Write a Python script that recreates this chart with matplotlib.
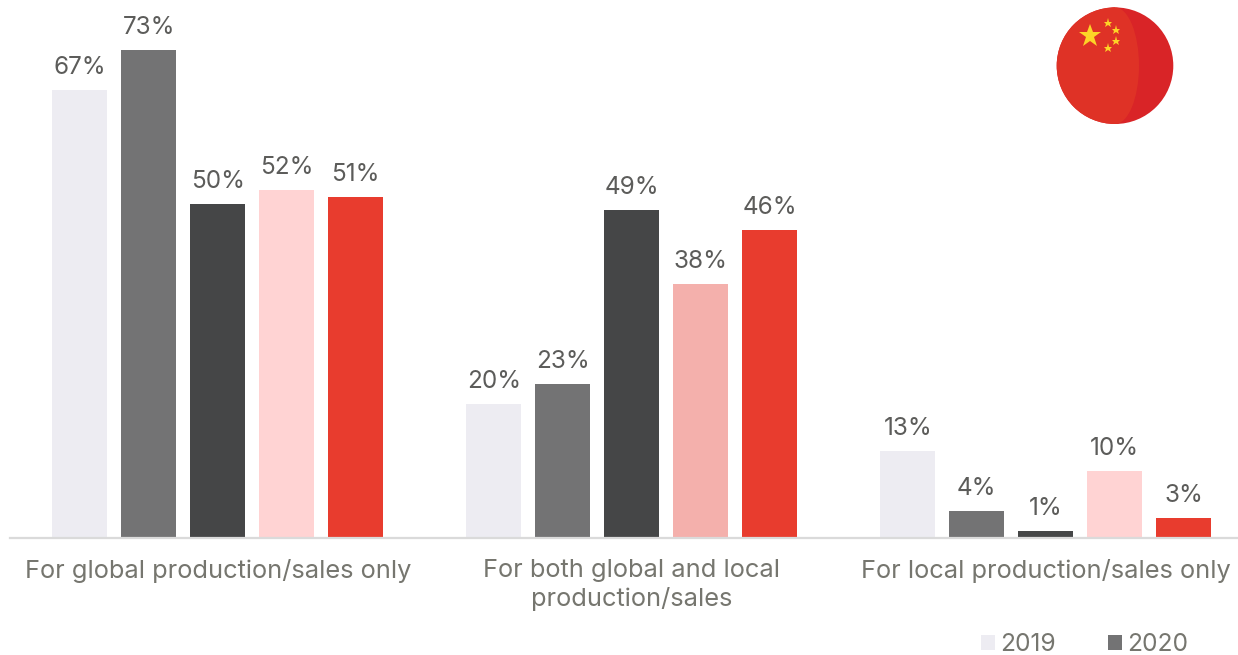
import matplotlib
matplotlib.use("Agg")
import matplotlib.pyplot as plt
from matplotlib.patches import Circle, Ellipse, Wedge

plt.rcParams['font.family'] = ['Inter', 'DejaVu Sans']

categories = ["For global production/sales only",
              "For both global and local\nproduction/sales",
              "For local production/sales only"]
values_a = [67, 20, 13]
values_b = [73, 23, 4]
values_c = [50, 49, 1]
values_d = [52, 38, 10]
values_e = [51, 46, 3]
series = [values_a, values_b, values_c, values_d, values_e]
series_labels = ["2019", "2020", None, None, None]
series_colors = [
    ["#EDECF2"] * 3,
    ["#737374"] * 3,
    ["#454647"] * 3,
    ["#FFD3D3", "#F4B0AC", "#FFD3D3"],
    ["#E83C2E"] * 3,
]

text_color = "#76766F"
value_color = "#5C5C5A"

W, H = 1238, 655
fig = plt.figure(figsize=(W / 100, H / 100), dpi=100)
ax = fig.add_axes([0, 0, 1, 1])

# one group step is 414 px, one percent is about 6.687 px
group_step = 414
first_center = 217.8
bar_step = 69 / group_step
bar_width = 55 / group_step
ax.set_xlim(-first_center / group_step, (W - first_center) / group_step)
ax.set_ylim(-(H - 538) / 6.687, 538 / 6.687)

for i, vals in enumerate(series):
    xs = [g + (i - 2) * bar_step for g in range(len(categories))]
    bars = ax.bar(xs, vals, bar_width, color=series_colors[i], label=series_labels[i])
    for x, v in zip(xs, vals):
        ax.annotate(f"{v}%", (x, v), xytext=(0, 11), textcoords="offset pixels",
                    ha="center", va="bottom", fontsize=17.5, color=value_color)

for side in ["top", "left", "right"]:
    ax.spines[side].set_visible(False)
ax.spines["bottom"].set_position(("data", 0))
ax.spines["bottom"].set_color("#DADADA")
ax.spines["bottom"].set_linewidth(1.6)
ax.spines["bottom"].set_bounds((10 - first_center) / group_step, (W - first_center) / group_step)
ax.set_yticks([])
ax.set_xticks(range(len(categories)))
ax.set_xticklabels(categories, fontsize=18.3, color=text_color, linespacing=1.25)
ax.tick_params(axis="x", length=0, pad=15)

ax.legend(loc="lower left", bbox_to_anchor=(0.7807, -0.024), ncol=2, frameon=False,
          fontsize=17.7, labelcolor=text_color, handlelength=0.56, handleheight=0.56,
          handletextpad=0.2, columnspacing=2.15, borderpad=0.1)

# flag badge, drawn in pixel coordinates
fx = fig.add_axes([0, 0, 1, 1])
fx.set_xlim(0, W)
fx.set_ylim(H, 0)
fx.axis("off")
cx, cy, r = 1115, 65.7, 58.3
disc = Circle((cx, cy), r, color="#D92427", lw=0)
fx.add_patch(disc)
fx.add_patch(Wedge((cx, cy), r, 90, 270, color="#DF3226", lw=0))
fx.add_patch(Ellipse((cx, cy), 48, 2 * r, color="#DF3226", lw=0))
fx.plot([1090], [35.5], marker="*", ms=17, color="#FDD427", mew=0)
fx.plot([1108, 1116, 1116, 1108], [22.5, 30, 41, 48], ls="", marker="*", ms=6.5,
        color="#FDD427", mew=0)

fig.savefig("out.png", dpi=100)
